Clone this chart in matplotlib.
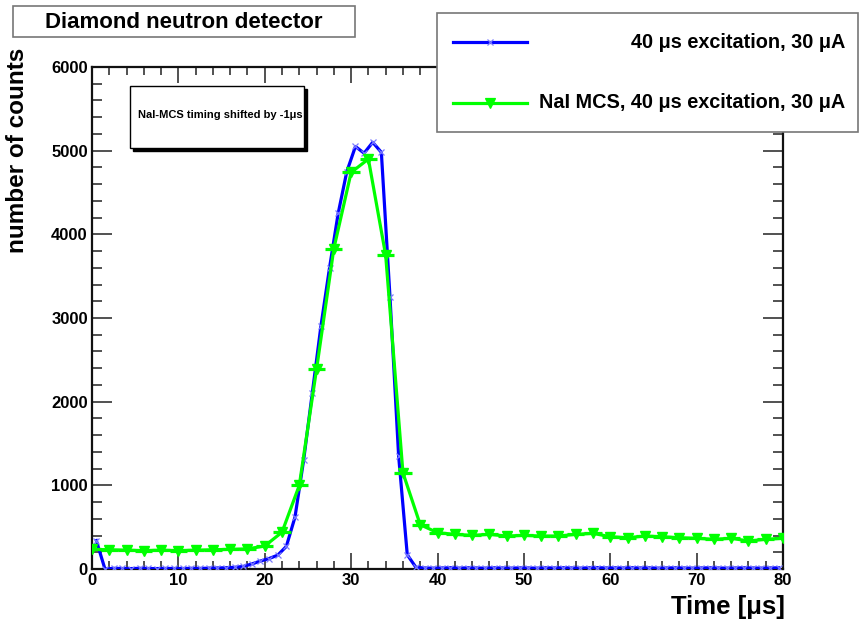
import matplotlib
matplotlib.use("Agg")
import matplotlib.pyplot as plt
from matplotlib.patches import Rectangle
from matplotlib.lines import Line2D
from matplotlib.ticker import MultipleLocator

plt.rcParams['font.family'] = ['Liberation Sans', 'DejaVu Sans']
plt.rcParams['font.weight'] = 'bold'

# ---------------- data ----------------
# Diamond detector, 40 us excitation (1 us bins, bin centres)
blue_t = [i + 0.5 for i in range(80)]
blue_counts = [
    340, 0, 8, 6, 5, 8, 6, 5, 7, 6,          # 0.5 - 9.5
    6, 8, 7, 10, 12, 15, 20, 30, 60, 95,      # 10.5 - 19.5
    125, 165, 270, 620, 1300, 2100, 2900, 3600, 4250, 4750,  # 20.5 - 29.5
    5050, 4970, 5100, 4980, 3250, 1350, 170, 20, 12, 10,     # 30.5 - 39.5
    12, 15, 10, 14, 12, 10, 14, 12, 10, 13,   # 40.5 - 49.5
    12, 10, 14, 12, 15, 12, 10, 14, 16, 12,   # 50.5 - 59.5
    14, 12, 15, 12, 14, 10, 12, 14, 12, 10,   # 60.5 - 69.5
    12, 14, 12, 10, 12, 14, 12, 10, 12, 14,   # 70.5 - 79.5
]

# NaI MCS, 40 us excitation (2 us bins), timing shifted by -1 us
green_t = list(range(0, 81, 2))
green_counts = [
    235, 230, 225, 220, 225, 220, 225, 230, 235, 240,   # 0 - 18
    275, 440, 1000, 2390, 3830, 4740, 4900, 3750, 1150, 530,  # 20 - 38
    434, 414, 402, 414, 394, 402, 394, 394, 414, 426,   # 40 - 58
    386, 374, 394, 386, 374, 367, 355, 367, 335, 355,   # 60 - 78
    367,                                                # 80
]

title_text = "Diamond neutron detector"
legend_labels = ["40 \u03bcs excitation, 30 \u03bcA",
                 "NaI MCS, 40 \u03bcs excitation, 30 \u03bcA"]
note_text = "NaI-MCS timing shifted by -1\u03bcs"
xlabel = "Time [\u03bcs]"
ylabel = "number of counts"

BLUE = '#0000ff'
BLUE_MK = '#7a7aff'
GREEN = '#00ff00'

W, H = 859, 628
fig = plt.figure(figsize=(W / 100, H / 100), dpi=100)
fig.patch.set_facecolor('white')


def fx(x):
    return x / W


def fy(y):
    return 1 - y / H


ax_l, ax_r, ax_t, ax_b = 92, 783, 67, 569
ax = fig.add_axes([fx(ax_l), fy(ax_b), fx(ax_r - ax_l), (ax_b - ax_t) / H])

ax.plot(blue_t, blue_counts, color=BLUE, lw=2.3, zorder=3)
ax.plot(blue_t, blue_counts, ls='none', marker='x', ms=4, mew=0.9,
        color=BLUE_MK, zorder=3.5)
ax.errorbar(green_t, green_counts, xerr=1, fmt='v-', color=GREEN, lw=2.3,
            ms=6.5, elinewidth=2.3, capsize=0, zorder=4)

ax.set_xlim(0, 80)
ax.set_ylim(0, 6000)
ax.xaxis.set_major_locator(MultipleLocator(10))
ax.xaxis.set_minor_locator(MultipleLocator(2))
ax.yaxis.set_major_locator(MultipleLocator(1000))
ax.yaxis.set_minor_locator(MultipleLocator(200))
ax.tick_params(axis='both', which='both', direction='in', top=True, right=True,
               labelsize=12, width=1.1, color='#222222')
ax.tick_params(axis='x', which='major', length=11.5, pad=3)
ax.tick_params(axis='x', which='minor', length=5.8)
ax.tick_params(axis='y', which='major', length=14.4, pad=3)
ax.tick_params(axis='y', which='minor', length=7.2)
for lab in ax.get_xticklabels() + ax.get_yticklabels():
    lab.set_fontweight('bold')
for sp in ax.spines.values():
    sp.set_linewidth(1.6)
    sp.set_color('#111111')

# axis labels (ROOT style, aligned at the axis ends)
fig.text(fx(785), fy(607), xlabel, ha='right', va='center',
         fontsize=18.5, fontweight='bold')
fig.text(fx(18), fy(48), ylabel, ha='center', va='top', rotation=90,
         fontsize=17.5, fontweight='bold')

# title box
fig.add_artist(Rectangle((fx(13), fy(37)), fx(355 - 13), (37 - 6) / H,
                         transform=fig.transFigure, fill=False,
                         edgecolor='#777777', lw=1.2))
fig.text(fx(184), fy(22), title_text, ha='center', va='center',
         fontsize=16, fontweight='bold')

# note box with shadow
fig.add_artist(Rectangle((fx(133), fy(151)), fx(304 - 130), (148 - 86) / H,
                         transform=fig.transFigure, facecolor='black',
                         edgecolor='black', lw=1, zorder=5))
fig.add_artist(Rectangle((fx(130), fy(148)), fx(304 - 130), (148 - 86) / H,
                         transform=fig.transFigure, facecolor='white',
                         edgecolor='black', lw=1, zorder=6))
fig.text(fx(220), fy(115), note_text, ha='center', va='center',
         fontsize=8, fontweight='bold', zorder=7)

# legend box
fig.add_artist(Rectangle((fx(437), fy(132)), fx(858 - 437), (132 - 13) / H,
                         transform=fig.transFigure, facecolor='white',
                         edgecolor='#777777', lw=1.2, zorder=5))
for yy, col, mk, lab in [(42, BLUE, 'x', legend_labels[0]),
                         (103, GREEN, 'v', legend_labels[1])]:
    fig.add_artist(Line2D([fx(453), fx(527)], [fy(yy), fy(yy)],
                          transform=fig.transFigure, color=col, lw=2.3,
                          zorder=6))
    fig.add_artist(Line2D([fx(490)], [fy(yy)], transform=fig.transFigure,
                          color=(BLUE_MK if mk == 'x' else col), marker=mk,
                          ms=(4 if mk == 'x' else 6.5), mew=0.9, zorder=7))
    fig.text(fx(845), fy(yy), lab, ha='right', va='center', fontsize=14.3,
             fontweight='bold', zorder=7)

fig.savefig('out.png', dpi=100)
